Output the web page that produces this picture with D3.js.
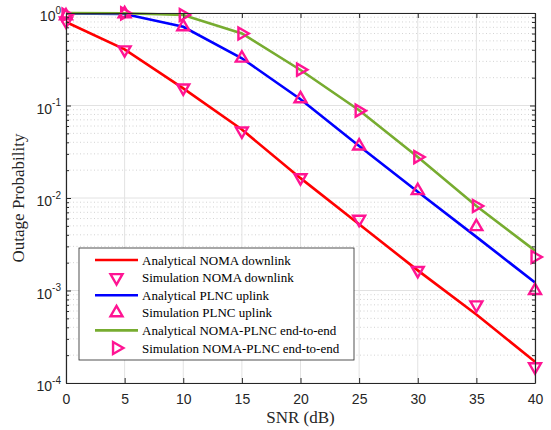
<!DOCTYPE html>
<html>
<head>
<meta charset="utf-8">
<script src="https://cdn.jsdelivr.net/npm/d3@7"></script>
<style>
body{margin:0;background:#fff;}
</style>
</head>
<body>
<div class="canvas"></div>
<script>
// data
const snr=[0,5,10,15,20,25,30,35,40];
const nomaAna=[0.80,0.405,0.153,0.055,0.0164,0.0052,0.00165,0.00055,0.00017];
const nomaSim=[0.82,0.40,0.155,0.053,0.0166,0.0059,0.00165,0.0007,0.00015];
const plncAna=[0.99,0.975,0.71,0.324,0.117,0.0365,0.0117,0.0038,0.00122];
const plncSim=[0.93,0.98,0.71,0.325,0.118,0.0365,0.012,0.0049,0.001];
const e2eAna=[0.998,0.995,0.95,0.60,0.242,0.089,0.0278,0.0082,0.0027];
const e2eSim=[0.96,0.99,0.95,0.60,0.244,0.088,0.0277,0.0082,0.0023];
const xTicks=[0,5,10,15,20,25,30,35,40];
const yTicks=[1e-4,1e-3,1e-2,1e-1,1];
const yTickExp=['-4','-3','-2','-1','0'];
const legendNames=['Analytical NOMA downlink','Simulation NOMA downlink','Analytical PLNC uplink',
  'Simulation PLNC uplink','Analytical NOMA-PLNC end-to-end','Simulation NOMA-PLNC end-to-end'];

const axisCol='#262626';
const pink='#ff1493';

const svg=d3.select('.canvas').append('svg')
.attr('width',551)
.attr('height',430);

const margin={left:66,top:13,right:16,bottom:47};
const graphWidth=551-margin.left-margin.right;
const graphHeight=430-margin.top-margin.bottom;

const graph=svg.append('g')
.attr('transform',`translate(${margin.left},${margin.top})`);

const x=d3.scaleLinear().domain([0,40]).range([0,graphWidth]);
const y=d3.scaleLog().domain([1e-4,1]).range([graphHeight,0]);

// minor log ticks 2..9 in each decade
const minors=[];
yTicks.slice(0,-1).forEach(d=>{
  for(let k=2;k<10;k++) minors.push(d*k);
});

// grid
graph.append('g').selectAll('line').data(minors).join('line')
.attr('x1',0).attr('x2',graphWidth)
.attr('y1',d=>y(d)).attr('y2',d=>y(d))
.attr('stroke','#c8c8c8').attr('stroke-width',0.8)
.attr('stroke-dasharray','1,2.5');

graph.append('g').selectAll('line').data(yTicks).join('line')
.attr('x1',0).attr('x2',graphWidth)
.attr('y1',d=>y(d)).attr('y2',d=>y(d))
.attr('stroke','#e2e2e2').attr('stroke-width',1);

graph.append('g').selectAll('line').data(xTicks).join('line')
.attr('x1',d=>x(d)).attr('x2',d=>x(d))
.attr('y1',0).attr('y2',graphHeight)
.attr('stroke','#e2e2e2').attr('stroke-width',1);

// series
const series=[
  {vals:nomaAna,color:'#ff0000',type:'line'},
  {vals:nomaSim,rot:180,type:'mark'},
  {vals:plncAna,color:'#0000ff',type:'line'},
  {vals:plncSim,rot:0,type:'mark'},
  {vals:e2eAna,color:'#77ac30',type:'line'},
  {vals:e2eSim,rot:90,type:'mark'}
];

const line=d3.line()
.x((d,i)=>x(snr[i]))
.y(d=>y(d));

const tri=d3.symbol().type(d3.symbolTriangle).size(62);

series.forEach(s=>{
  if(s.type==='line'){
    graph.append('path')
    .attr('d',line(s.vals))
    .attr('fill','none')
    .attr('stroke',s.color)
    .attr('stroke-width',2.6);
  }else{
    graph.append('g').selectAll('path').data(s.vals).join('path')
    .attr('d',tri)
    .attr('transform',(d,i)=>`translate(${x(snr[i])},${y(d)}) rotate(${s.rot})`)
    .attr('fill','none')
    .attr('stroke',pink)
    .attr('stroke-width',2.4);
  }
});

// axes
const xAxisGroup=graph.append('g').attr('transform',`translate(0,${graphHeight})`);
xAxisGroup.call(d3.axisBottom(x).tickValues(xTicks).tickSize(-5).tickSizeOuter(0).tickPadding(11));
const xTopGroup=graph.append('g');
xTopGroup.call(d3.axisTop(x).tickValues(xTicks).tickSize(-5).tickSizeOuter(0).tickFormat(''));

const yAxisGroup=graph.append('g');
yAxisGroup.call(d3.axisLeft(y).tickValues(yTicks).tickSize(-5).tickSizeOuter(0).tickPadding(5));
const yMinorGroup=graph.append('g');
yMinorGroup.call(d3.axisLeft(y).tickValues(minors).tickSize(-3).tickSizeOuter(0).tickFormat(''));
const yRightGroup=graph.append('g').attr('transform',`translate(${graphWidth},0)`);
yRightGroup.call(d3.axisRight(y).tickValues(yTicks).tickSize(-5).tickSizeOuter(0).tickFormat(''));
const yRightMinor=graph.append('g').attr('transform',`translate(${graphWidth},0)`);
yRightMinor.call(d3.axisRight(y).tickValues(minors).tickSize(-3).tickSizeOuter(0).tickFormat(''));

[xAxisGroup,xTopGroup,yAxisGroup,yMinorGroup,yRightGroup,yRightMinor].forEach(g=>{
  g.select('.domain').attr('stroke',axisCol).attr('stroke-width',1.2);
  g.selectAll('.tick line').attr('stroke',axisCol).attr('stroke-width',1);
});
yMinorGroup.select('.domain').remove();
yRightMinor.select('.domain').remove();

xAxisGroup.selectAll('text')
.attr('font-family','"Liberation Sans", Arial, sans-serif')
.attr('font-size',14)
.attr('fill',axisCol);

yAxisGroup.selectAll('.tick text')
.text(null)
.attr('font-family','"Liberation Sans", Arial, sans-serif')
.attr('fill',axisCol)
.attr('dy',null)
.attr('y',7.5)
.each(function(d,i){
  const t=d3.select(this);
  t.append('tspan').attr('font-size',14).text('10');
  t.append('tspan').attr('font-size',10).attr('dy',-7.5).text(yTickExp[i]);
});

// axis titles
svg.append('text')
.attr('x',margin.left+graphWidth/2)
.attr('y',423)
.attr('text-anchor','middle')
.attr('font-family','"Liberation Serif", "Times New Roman", serif')
.attr('font-size',17)
.attr('fill',axisCol)
.text('SNR (dB)');

svg.append('text')
.attr('transform',`translate(24,${margin.top+graphHeight/2}) rotate(-90)`)
.attr('text-anchor','middle')
.attr('font-family','"Liberation Serif", "Times New Roman", serif')
.attr('font-size',17)
.attr('fill',axisCol)
.text('Outage Probability');

// legend
const legend=svg.append('g').attr('transform','translate(79,248)');
legend.append('rect')
.attr('width',275).attr('height',112)
.attr('fill','#fff')
.attr('stroke',axisCol).attr('stroke-width',0.8);

series.forEach((s,i)=>{
  const cy=12+i*17.6;
  if(s.type==='line'){
    legend.append('line')
    .attr('x1',16).attr('x2',59)
    .attr('y1',cy).attr('y2',cy)
    .attr('stroke',s.color).attr('stroke-width',2.6);
  }else{
    legend.append('path')
    .attr('d',tri)
    .attr('transform',`translate(37.5,${cy}) rotate(${s.rot})`)
    .attr('fill','none')
    .attr('stroke',pink)
    .attr('stroke-width',2.4);
  }
  legend.append('text')
  .attr('x',63).attr('y',cy+4.5)
  .attr('font-family','"Liberation Serif", "Times New Roman", serif')
  .attr('font-size',13)
  .attr('fill','#000')
  .text(legendNames[i]);
});
</script>
</body>
</html>
